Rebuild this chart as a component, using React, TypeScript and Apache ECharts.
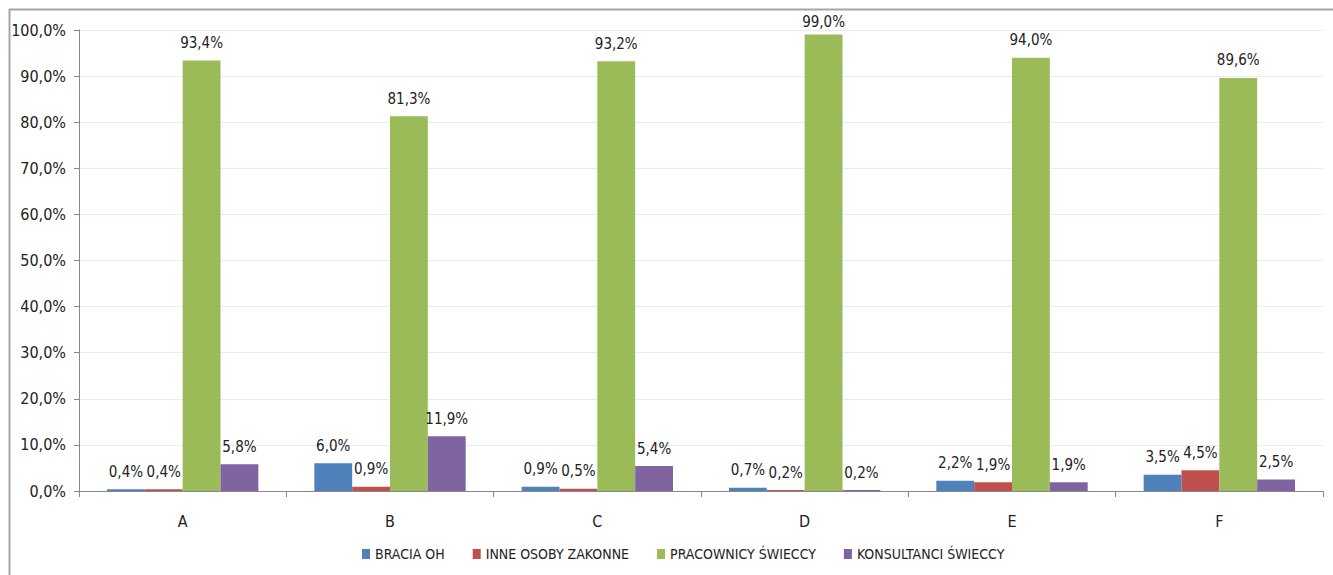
import React, { useEffect, useRef } from "react";
import * as echarts from "echarts";

const categories = ["A", "B", "C", "D", "E", "F"];
const seriesNames = ["BRACIA OH", "INNE OSOBY ZAKONNE", "PRACOWNICY ŚWIECCY", "KONSULTANCI ŚWIECCY"];
const braciaOH = [0.4, 6.0, 0.9, 0.7, 2.2, 3.5];
const inneOsoby = [0.4, 0.9, 0.5, 0.2, 1.9, 4.5];
const pracownicy = [93.4, 81.3, 93.2, 99.0, 94.0, 89.6];
const konsultanci = [5.8, 11.9, 5.4, 0.2, 1.9, 2.5];
const colors = ["#4F81BD", "#C0504D", "#9BBB59", "#8064A2"];

const FONT = "'Liberation Sans Narrow', 'DejaVu Sans Condensed', Lato, sans-serif";

const fmt = (v: number) => v.toFixed(1).replace(".", ",") + "%";

export default function App() {
  const ref = useRef<HTMLDivElement>(null);
  useEffect(() => {
    if (!ref.current) return;
    const chart = echarts.init(ref.current, undefined, { renderer: "svg" });
    const data = [braciaOH, inneOsoby, pracownicy, konsultanci];
    chart.setOption({
      animation: false,
      backgroundColor: "#ffffff",
      textStyle: { fontFamily: FONT },
      graphic: [
        { type: "line", shape: { x1: 9, y1: 9.5, x2: 1333, y2: 9.5 }, style: { stroke: "#a6a6a6", lineWidth: 2 } },
        { type: "line", shape: { x1: 9.5, y1: 9, x2: 9.5, y2: 575 }, style: { stroke: "#a6a6a6", lineWidth: 2 } },
      ],
      grid: { left: 79, right: 10, top: 30, bottom: 84, containLabel: false },
      legend: {
        bottom: 9,
        left: 357,
        itemWidth: 8,
        itemHeight: 10,
        itemGap: 28,
        icon: "rect",
        textStyle: { fontFamily: FONT, fontSize: 14, color: "#222" },
        data: seriesNames,
      },
      xAxis: {
        type: "category",
        data: categories,
        axisLine: { lineStyle: { color: "#888", width: 1 } },
        axisTick: { show: true, length: 6, lineStyle: { color: "#888" } },
        axisLabel: { fontFamily: FONT, fontSize: 16, color: "#222", margin: 22 },
      },
      yAxis: {
        type: "value",
        min: 0,
        max: 100,
        interval: 10,
        axisLine: { show: true, lineStyle: { color: "#888" } },
        axisTick: { show: true, length: 5, lineStyle: { color: "#888" } },
        splitLine: { lineStyle: { color: "#e4ecf6" } },
        axisLabel: {
          fontFamily: FONT,
          fontSize: 16,
          color: "#222",
          margin: 13,
          formatter: (v: number) => fmt(v),
        },
      },
      series: seriesNames.map((name, i) => ({
        name,
        type: "bar",
        data: data[i].map((v) => (v > 97 ? { value: v, label: { distance: 5 } } : v)),
        barGap: "0%",
        barCategoryGap: "27%",
        itemStyle: { color: colors[i] },
        label: {
          show: true,
          position: "top",
          distance: 10,
          fontFamily: FONT,
          fontSize: 15,
          color: "#222",
          formatter: (p: any) => fmt(p.value),
        },
      })),
    });
    return () => chart.dispose();
  }, []);
  return (
    <div
      ref={ref}
      style={{ position: "absolute", left: 0, top: 0, width: 1333, height: 575 }}
    />
  );
}
